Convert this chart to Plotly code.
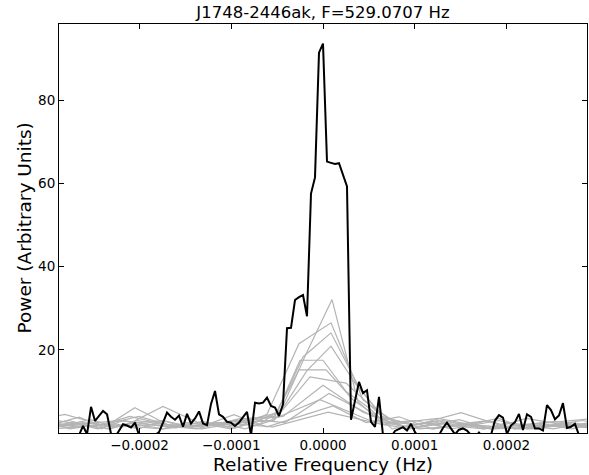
import numpy as np
import plotly.graph_objects as go

# ---------------- data ----------------
title_text = "J1748-2446ak, F=529.0707 Hz"
x_tick_vals = [-2e-4, -1e-4, 0.0, 1e-4, 2e-4]
x_tick_text = ["\u22120.0002", "\u22120.0001", "0.0000", "0.0001", "0.0002"]
y_tick_vals = [20, 40, 60, 80]
y_tick_text = ["20", "40", "60", "80"]

# combined (black) spectrum: frequency bins k*df, k=-66..66
black_df = 4.36e-6
black_k = np.arange(-66, 67)
black_power = [
    -1, -1, -1, -1, -1, -0.5,
    1.7, -0.3, 6.3, 2.9, 4.0, 5.3, 4.5, -0.2, -1, 0.5,
    2.1, 1.8, 1.3, 2.5, -0.5, -1, -1, -1, -0.5, 0.2,
    2.5, 4.9, 3.9, 3.2, 4.2, 1.5, 4.6, 2.3, 3.5, 5.2,
    2.3, 1.9, 7.0, 10.1, 4.5, 3.9, 2.7, 2.5, 1.7, 2.5,
    3.8, 5.1, -0.5, 7.3, 7.1, 7.3, 8.5, 6.5, 6.1, 4.1,
    6.9, 25.2, 25.3, 32.0, 32.7, 33.2, 28.1, 57.6, 61.5, 91.5,
    93.7,
    65.3, 65.0, 64.7, 64.9, 62.0, 59.3, 3.2, 7.5, 12.3, 9.6,
    10.3, 2.7, 1.5, 8.7, -0.5, -1, -1, 0.5, 0.9, 1.4,
    0.6, 2.2, 0.2, -1, -1, -1, -1, -1, -0.5, 1.2,
    2.5, 1.0, -0.3, 0.8, 1.1, 0.6, -0.5, -1, 0.1, -1,
    -1, -0.5, 3.0, 4.3, 3.7, -0.2, 1.8, 2.6, 4.6, 0.7,
    4.5, 3.9, 1.1, 1.1, 0.6, 6.7, 5.5, 3.3, 4.2, 7.2,
    1.2, 1.5, 2.2, -0.5, -1, -1,
]

# individual (gray) spectra: first frequency, bin width, powers
gray_f0 = [-3.020e-4, -3.054e-4, -2.963e-4, -3.057e-4, -3.012e-4, -2.907e-4,
           -2.893e-4, -3.052e-4, -3.295e-4, -3.303e-4, -3.131e-4, -3.545e-4]
gray_df = [2.835e-5, 3.49e-5, 3.05e-5, 2.62e-5, 2.51e-5, 2.94e-5,
           3.93e-5, 4.36e-5, 4.80e-5, 5.45e-5, 3.60e-5, 6.00e-5]
gray_power = [
    [1.5, 2.5, 1.0, 3.0, 2.0, 1.2, 2.8, 1.5, 3.5, 5.0, 19.0, 32.1, 7.5, 2.0, 1.0, 2.5, 1.5, 3.0, 1.0, 2.0, 1.5, 2.5],
    [3.0, 1.5, 2.2, 4.0, 1.8, 2.5, 1.2, 4.5, 21.5, 26.5, 8.0, 2.5, 1.8, 3.2, 1.0, 2.0, 2.8, 1.5],
    [2.0, 3.8, 1.0, 2.5, 3.0, 1.5, 2.0, 3.5, 4.0, 18.3, 24.1, 11.0, 2.5, 3.0, 1.5, 2.2, 3.5, 1.0, 2.0, 3.0, 1.5],
    [1.0, 2.0, 3.2, 1.5, 2.0, 1.0, 2.5, 1.8, 3.0, 2.0, 6.0, 15.0, 20.9, 12.0, 5.0, 1.5, 2.5, 1.0, 2.0, 3.0, 1.2, 2.0, 1.0, 2.2],
    [2.5, 1.0, 1.8, 2.2, 1.0, 3.0, 1.5, 2.0, 1.0, 2.5, 5.0, 17.5, 17.5, 10.0, 6.0, 1.0, 2.0, 3.0, 1.5, 1.0, 2.5, 1.8, 1.0, 2.0, 1.5],
    [1.5, 2.0, 1.0, 3.0, 2.0, 1.5, 2.5, 1.0, 3.0, 15.2, 15.2, 8.0, 3.5, 1.5, 1.0, 2.2, 3.0, 1.0, 1.5, 2.0, 1.0],
    [3.0, 1.5, 4.0, 2.0, 1.0, 2.5, 3.0, 13.5, 12.0, 4.0, 1.5, 2.5, 1.0, 3.5, 2.0, 1.0],
    [1.0, 2.5, 1.5, 6.4, 2.0, 3.0, 4.0, 11.5, 5.0, 1.5, 3.0, 1.0, 2.0, 1.5, 3.0],
    [2.0, 4.5, 1.5, 2.0, 1.0, 3.5, 2.5, 9.5, 4.0, 2.0, 4.9, 1.5, 2.5, 3.5],
    [1.0, 2.0, 3.0, 1.5, 2.0, 3.0, 8.0, 3.0, 1.0, 2.0, 1.0, 2.5, 1.0],
    [1.5, 3.0, 1.0, 6.1, 2.0, 1.5, 4.4, 1.5, 4.0, 6.5, 2.5, 3.9, 1.0, 2.0, 1.5, 1.0, 2.0, 1.0],
    [3.0, 1.0, 2.0, 1.0, 2.5, 1.5, 5.0, 2.0, 3.5, 1.0, 1.5, 2.0],
]

# ---------------- figure ----------------
fig = go.Figure()
for f0, df, pw in zip(gray_f0, gray_df, gray_power):
    freqs = f0 + df * np.arange(len(pw))
    fig.add_trace(go.Scatter(x=freqs, y=pw, mode="lines",
                             line=dict(color="#b4b4b4", width=1.2),
                             hoverinfo="skip", showlegend=False))

fig.add_trace(go.Scatter(x=black_k * black_df, y=black_power, mode="lines",
                         line=dict(color="black", width=2),
                         showlegend=False))

W, H = 589, 475
ml, mr, mt, mb = 59, 2, 24, 42
pw_ = W - ml - mr
ph_ = H - mt - mb

axis_font = dict(family="DejaVu Sans", size=13.5, color="black")
fig.update_layout(
    width=W, height=H,
    margin=dict(l=ml, r=mr, t=mt, b=mb, pad=0),
    paper_bgcolor="white", plot_bgcolor="white",
    title=dict(text=title_text, x=0.5, xref="paper", y=1 - 12.5 / H,
               yref="container", xanchor="center", yanchor="middle",
               font=dict(family="DejaVu Sans", size=16.5, color="black")),
    xaxis=dict(range=[-2.878e-4, 2.878e-4], showgrid=False, zeroline=False,
               showline=True, linecolor="black", linewidth=1, mirror="ticks",
               ticks="inside", ticklen=5, tickcolor="black", tickwidth=1,
               tickvals=x_tick_vals, ticktext=x_tick_text, tickfont=axis_font),
    yaxis=dict(range=[0, 98.4], showgrid=False, zeroline=False,
               showline=True, linecolor="black", linewidth=1, mirror="ticks",
               ticks="inside", ticklen=5, tickcolor="black", tickwidth=1,
               tickvals=y_tick_vals, ticktext=y_tick_text, tickfont=axis_font),
    annotations=[
        dict(text="Relative Frequency (Hz)", xref="paper", yref="paper",
             x=0.5, y=-(465 - (H - mb)) / ph_, xanchor="center", yanchor="middle",
             showarrow=False, font=dict(family="DejaVu Sans", size=18.5, color="black")),
        dict(text="Power (Arbitrary Units)", xref="paper", yref="paper",
             x=(24 - ml) / pw_, y=0.5, xanchor="center", yanchor="middle",
             textangle=-90, showarrow=False,
             font=dict(family="DejaVu Sans", size=18.5, color="black")),
    ],
)

fig.write_html("out.html")
